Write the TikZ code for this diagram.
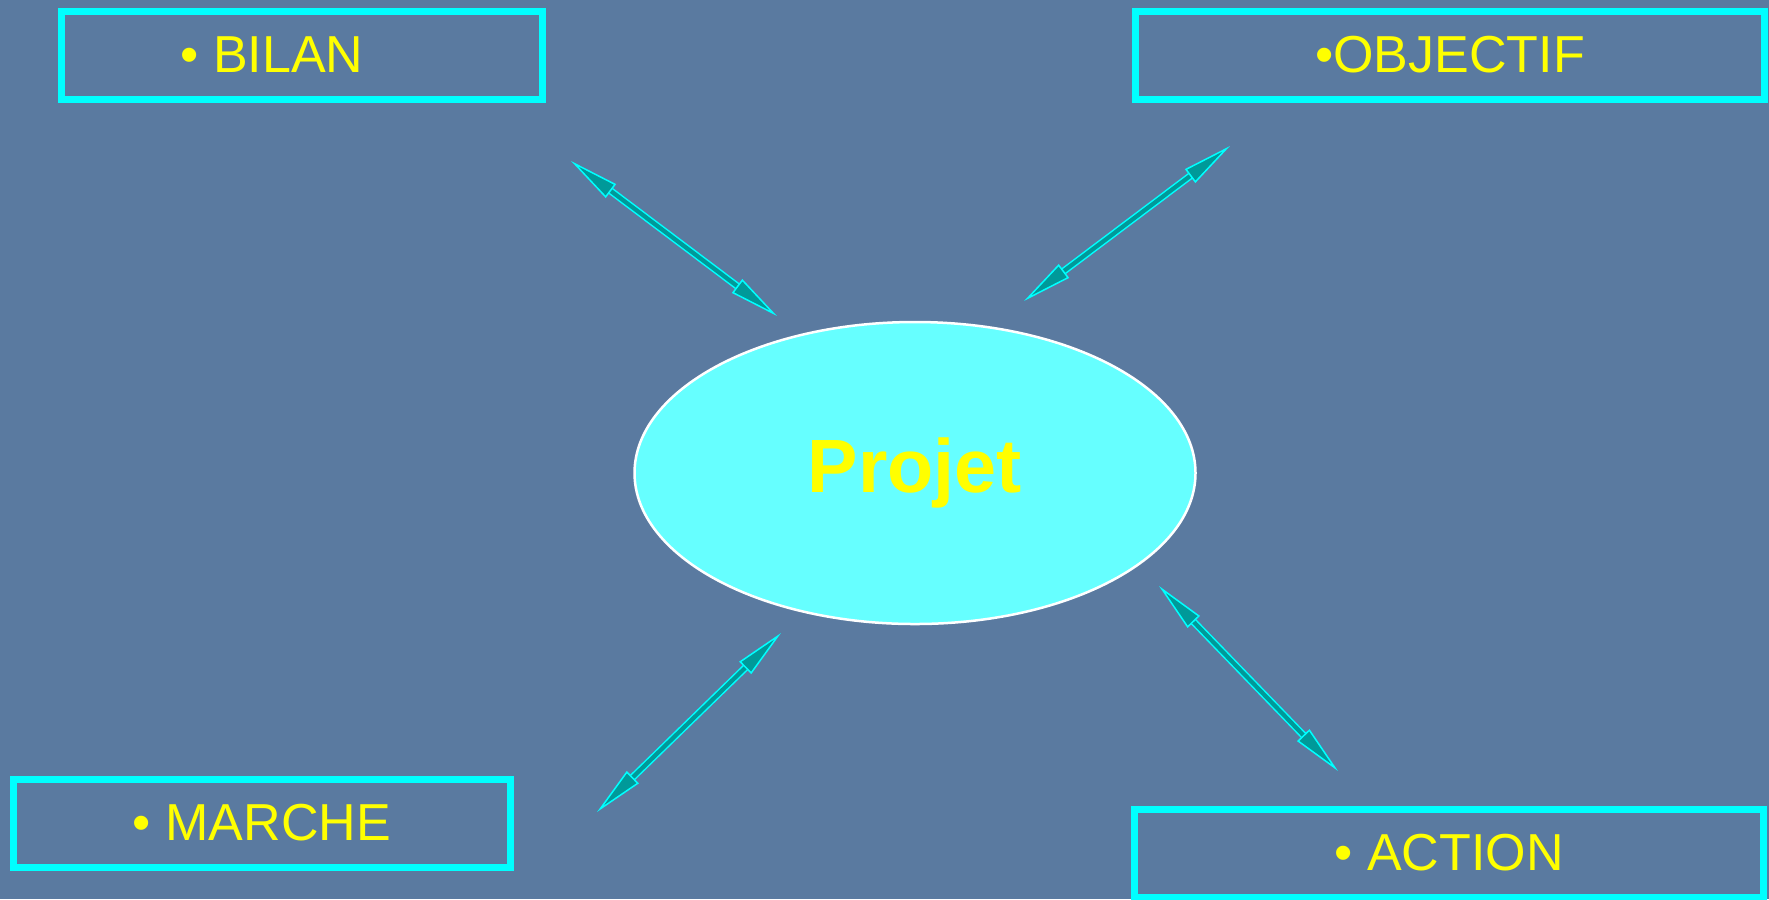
\documentclass[tikz,border=0pt]{standalone}
\usepackage{fontspec}
\setmainfont{Liberation Sans}
\usetikzlibrary{shapes.geometric}
\usetikzlibrary{arrows.meta}

\definecolor{bgblue}{RGB}{90,122,160}
\definecolor{boxcyan}{RGB}{0,255,255}
\definecolor{ovalcyan}{RGB}{102,255,255}
\definecolor{arrowteal}{RGB}{0,153,153}
\definecolor{txtyellow}{RGB}{255,255,0}

\begin{document}
\begin{tikzpicture}[
x=0.1mm, y=-0.1mm,
boxnode/.style={rectangle, draw=boxcyan, line width=0.7mm, minimum height=8.8mm, inner sep=0pt,
  text=txtyellow, font=\fontsize{14.8}{16}\selectfont},
ovalnode/.style={ellipse, draw=white, fill=ovalcyan, line width=0.25mm, minimum width=56.1mm,
  minimum height=30.2mm, inner sep=0pt, text=txtyellow, font=\fontsize{21.5}{24}\selectfont\bfseries},
dblarrow/.style={draw=boxcyan, line width=0.15mm, double=arrowteal, double distance=0.42mm,
  {Triangle[length=5mm, width=1.7mm, fill=arrowteal]}-{Triangle[length=5mm, width=1.7mm, fill=arrowteal]}},
]
%Background
\useasboundingbox (0,0) rectangle (1769,899);
\fill[bgblue] (0,0) rectangle (1769,899);

%Nodes
\node[ovalnode] (projet)   at (915,473)  {Projet};
\node[boxnode, minimum width=48.1mm] (bilan)    at (302,55)   {\textbullet\ BILAN\hspace*{6mm}};
\node[boxnode, minimum width=62.9mm] (objectif) at (1450,55)  {\textbullet OBJECTIF};
\node[boxnode, minimum width=49.7mm] (marche)   at (262,823)  {\textbullet\ MARCHE};
\node[boxnode, minimum width=62.9mm] (action)   at (1449,853) {\textbullet\ ACTION};

%Arrow ends
\coordinate (bilanend)    at (571,161);
\coordinate (bilanproj)   at (777,316);
\coordinate (objend)      at (1230,146);
\coordinate (objproj)     at (1024,301);
\coordinate (marcheend)   at (597,812);
\coordinate (marcheproj)  at (781,633);
\coordinate (actionend)   at (1338,771);
\coordinate (actionproj)  at (1159,586);

%Lines
\draw[dblarrow] (bilanend) -- (bilanproj);
\draw[dblarrow] (objend) -- (objproj);
\draw[dblarrow] (marcheend) -- (marcheproj);
\draw[dblarrow] (actionend) -- (actionproj);
\end{tikzpicture}
\end{document}
